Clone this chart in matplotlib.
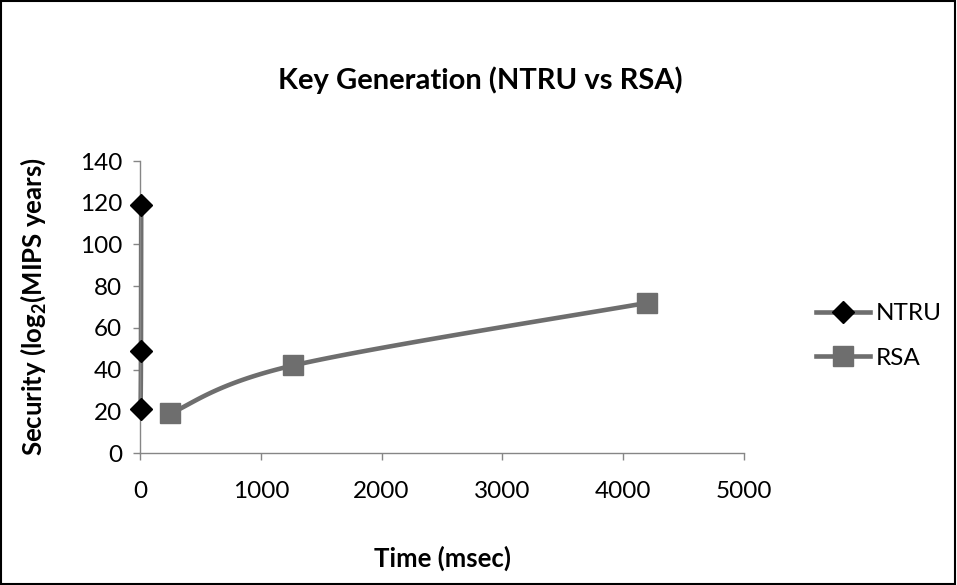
import numpy as np
import matplotlib
matplotlib.use("Agg")
import matplotlib.pyplot as plt
from matplotlib.lines import Line2D
from matplotlib.patches import Rectangle

plt.rcParams['font.family'] = ['Lato', 'DejaVu Sans']
plt.rcParams['mathtext.fontset'] = 'custom'
plt.rcParams['mathtext.rm'] = 'Lato'
plt.rcParams['mathtext.bf'] = 'Lato:bold'

# Data
ntru_time = [5, 8, 10]
ntru_security = [21, 49, 119]
rsa_time = [250, 1270, 4200]
rsa_security = [19, 42, 72]

title = "Key Generation (NTRU vs RSA)"
xlabel = "Time (msec)"
ylabel = r"Security (log$_{\mathbf{2}}$(MIPS years)"
xticks = [0, 1000, 2000, 3000, 4000, 5000]
yticks = [0, 20, 40, 60, 80, 100, 120, 140]

LINE = '#6e6e6e'
AXC = '#868686'

fig = plt.figure(figsize=(9.57, 5.85), dpi=100)
fig.patches.append(Rectangle((0.001, 0.002), 0.997, 0.996, transform=fig.transFigure,
                             fill=False, edgecolor='black', linewidth=1.5))
ax = fig.add_axes([140/957, 1-453/585, (744-140)/957, (453-161)/585])
ax.set_xlim(0, 5000)
ax.set_ylim(0, 140)


def smooth(xs, ys, n=40):
    # Excel-like Bezier smoothing in axes (screen) space
    X = np.asarray(xs, float) / 5000 * 604
    Y = np.asarray(ys, float) / 140 * 292
    P = np.column_stack([X, Y])
    out = [P[0]]
    for i in range(len(P) - 1):
        p0 = P[i - 1] if i > 0 else P[i]
        p1 = P[i]
        p2 = P[i + 1]
        p3 = P[i + 2] if i + 2 < len(P) else P[i + 1]
        c1 = p1 + (p2 - p0) / 6
        c2 = p2 - (p3 - p1) / 6
        t = np.linspace(0, 1, n)[1:, None]
        seg = ((1 - t) ** 3) * p1 + 3 * ((1 - t) ** 2) * t * c1 + 3 * (1 - t) * t ** 2 * c2 + t ** 3 * p2
        out.extend(seg)
    out = np.array(out)
    return out[:, 0] / 604 * 5000, out[:, 1] / 292 * 140


sx, sy = smooth(ntru_time, ntru_security)
ax.plot(sx, sy, color=LINE, lw=3.3, solid_capstyle='round', zorder=2, clip_on=False)
ax.plot(ntru_time, ntru_security, ls='none', marker='D', ms=11, color='black', zorder=3, clip_on=False)
sx, sy = smooth(rsa_time, rsa_security)
ax.plot(sx, sy, color=LINE, lw=3.3, solid_capstyle='round', zorder=2, clip_on=False)
ax.plot(rsa_time, rsa_security, ls='none', marker='s', ms=14, color=LINE, zorder=3, clip_on=False)

for s in ['top', 'right']:
    ax.spines[s].set_visible(False)
for s in ['left', 'bottom']:
    ax.spines[s].set_color(AXC)
    ax.spines[s].set_linewidth(1)
ax.set_xticks(xticks)
ax.set_yticks(yticks)
ax.tick_params(axis='both', color=AXC, length=5, width=1, labelsize=17.5, labelcolor='black')
ax.tick_params(axis='x', pad=15)
ax.tick_params(axis='y', pad=8)

fig.text(480/957, 1-80/585, title, ha='center', va='center', fontsize=21, fontweight='bold')
fig.text(443/957, 1-558/585, xlabel, ha='center', va='center', fontsize=18.5, fontweight='bold')
fig.text(33/957, 1-307/585, ylabel, ha='center', va='center', rotation=90, fontsize=18.5, fontweight='bold')

handles = [
    Line2D([], [], color=LINE, lw=3.3, marker='D', ms=11, mfc='black', mec='black'),
    Line2D([], [], color=LINE, lw=3.3, marker='s', ms=14, mfc=LINE, mec=LINE),
]
fig.legend(handles, ['NTRU', 'RSA'], loc='center left', bbox_to_anchor=(804/957, 1-336/585),
           frameon=False, fontsize=17.5, handlelength=2.2, handletextpad=0.25, labelspacing=0.95,
           borderpad=0)

fig.savefig('out.png', dpi=100)
